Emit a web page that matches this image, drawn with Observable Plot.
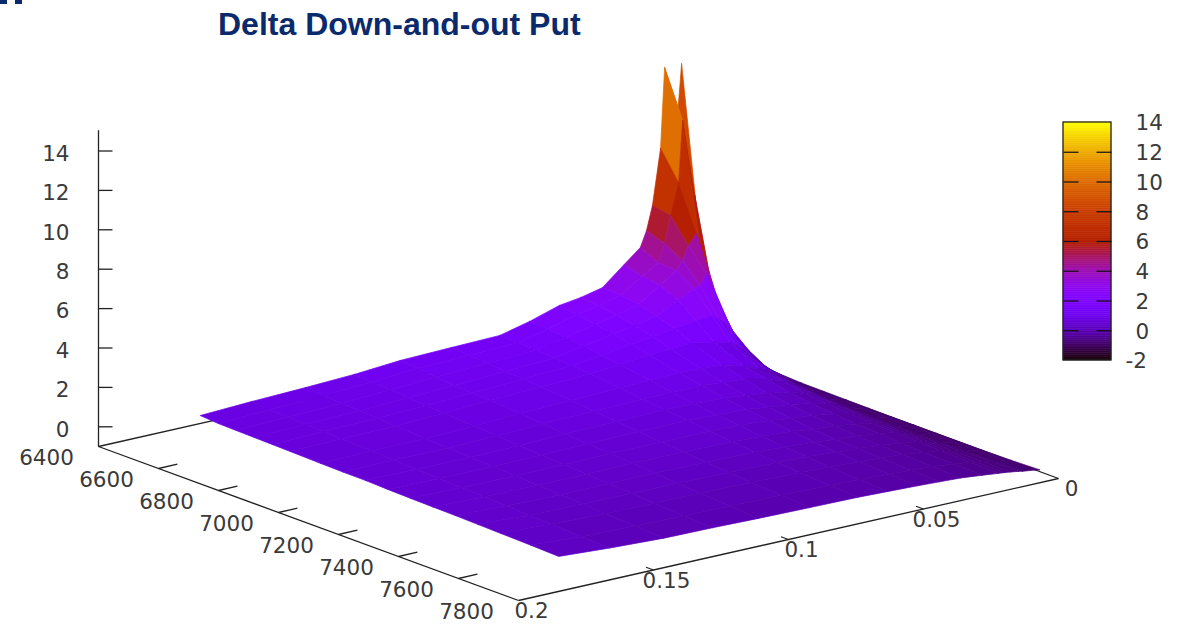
<!DOCTYPE html>
<html>
<head>
<meta charset="utf-8">
<script src="https://cdn.jsdelivr.net/npm/d3@7"></script>
<script src="https://cdn.jsdelivr.net/npm/@observablehq/plot@0.6"></script>
<style>
  html, body { margin: 0; padding: 0; background: #fff; }
  #wrap { position: relative; width: 1180px; height: 624px; overflow: hidden; }
  #title { position: relative; height: 48px; }
  #title h1 { position: absolute; left: 218px; top: 6px; margin: 0; font: bold 32px "Liberation Sans", Arial, sans-serif; color: #0a2a6b; white-space: nowrap; }
  .crumb { position: absolute; top: 0; width: 7px; height: 4px; background: #0a2a6b; }
  svg { display: block; }
</style>
</head>
<body>
<div id="wrap">
  <div class="crumb" style="left:0"></div>
  <div class="crumb" style="left:15px"></div>
  <div id="title"><h1>Delta Down-and-out Put</h1></div>
  <div id="chart"></div>
</div>
<script>
// Grid of the surface
const spotLevels = [6550, 6610, 6670, 6730, 6790, 6850, 6950, 7025, 7100, 7175, 7250, 7325, 7400, 7475, 7550, 7650, 7745];
const maturities = [0.0007, 0.0025, 0.007, 0.0085, 0.0115, 0.0137, 0.016, 0.022, 0.03, 0.038, 0.046, 0.057, 0.068, 0.086, 0.105, 0.122, 0.14, 0.16, 0.179];
// Delta per maturity (back to front), one value per spot level
const delta0007 = [13.1, 4.55, 1.75, 0.25, -0.48, -0.8, -0.88, -0.89, -0.9, -0.91, -0.92, -0.92, -0.92, -0.92, -0.92, -0.9, -0.85];
const delta0025 = [10.0, 6.8, 2.2, 0.72, -0.07, -0.6, -0.8, -0.83, -0.85, -0.86, -0.87, -0.87, -0.87, -0.87, -0.87, -0.84, -0.8];
const delta0070 = [13.1, 10.75, 4.4, 2.12, 0.69, -0.05, -0.45, -0.6, -0.7, -0.75, -0.78, -0.79, -0.8, -0.8, -0.8, -0.76, -0.72];
const delta0085 = [9.04, 7.64, 5.39, 2.83, 1.04, 0.15, -0.3, -0.45, -0.55, -0.62, -0.68, -0.7, -0.72, -0.72, -0.72, -0.7, -0.68];
const delta0115 = [6.23, 6.06, 4.87, 3.79, 1.63, 0.6, 0, -0.2, -0.35, -0.43, -0.5, -0.54, -0.58, -0.6, -0.62, -0.62, -0.62];
const delta0137 = [5.03, 4.71, 4.18, 3.25, 1.91, 0.87, 0.15, -0.05, -0.2, -0.3, -0.4, -0.45, -0.5, -0.53, -0.55, -0.57, -0.58];
const delta0160 = [4.24, 3.82, 3.75, 3.17, 2.13, 1.1, 0.3, 0.1, -0.1, -0.2, -0.3, -0.35, -0.4, -0.44, -0.48, -0.52, -0.55];
const delta0220 = [3.56, 3.3, 3.2, 2.75, 2.05, 1.3, 0.65, 0.4, 0.15, 0, -0.12, -0.2, -0.27, -0.33, -0.38, -0.42, -0.46];
const delta0300 = [2.64, 2.6, 2.45, 2.2, 1.9, 1.5, 0.95, 0.65, 0.35, 0.2, 0.05, -0.05, -0.15, -0.2, -0.25, -0.3, -0.35];
const delta0380 = [2.39, 2.3, 2.15, 1.95, 1.75, 1.45, 1, 0.72, 0.48, 0.3, 0.15, 0.03, -0.06, -0.12, -0.18, -0.24, -0.3];
const delta0460 = [2.23, 2.1, 1.95, 1.8, 1.6, 1.4, 1.05, 0.82, 0.6, 0.45, 0.3, 0.17, 0.05, -0.04, -0.12, -0.18, -0.25];
const delta0570 = [1.76, 1.7, 1.6, 1.5, 1.4, 1.25, 1, 0.82, 0.65, 0.5, 0.38, 0.26, 0.13, 0.05, -0.05, -0.12, -0.2];
const delta0680 = [1.39, 1.35, 1.3, 1.25, 1.2, 1.1, 0.95, 0.82, 0.7, 0.57, 0.45, 0.32, 0.2, 0.1, 0.02, -0.07, -0.15];
const delta0860 = [1.33, 1.28, 1.2, 1.12, 1.07, 1, 0.87, 0.75, 0.65, 0.54, 0.45, 0.35, 0.25, 0.15, 0.07, -0.03, -0.12];
const delta1050 = [1.26, 1.2, 1.1, 1, 0.95, 0.9, 0.8, 0.7, 0.6, 0.52, 0.45, 0.37, 0.3, 0.2, 0.12, 0.02, -0.08];
const delta1220 = [1.08, 1.03, 0.97, 0.9, 0.85, 0.8, 0.7, 0.63, 0.55, 0.48, 0.42, 0.36, 0.29, 0.22, 0.13, 0.05, -0.03];
const delta1400 = [0.97, 0.9, 0.85, 0.8, 0.75, 0.7, 0.62, 0.56, 0.5, 0.45, 0.4, 0.34, 0.28, 0.22, 0.15, 0.08, 0];
const delta1600 = [0.88, 0.8, 0.77, 0.73, 0.7, 0.67, 0.6, 0.56, 0.52, 0.47, 0.43, 0.38, 0.34, 0.28, 0.23, 0.16, 0.12];
const delta1790 = [0.76, 0.69, 0.67, 0.65, 0.63, 0.61, 0.57, 0.55, 0.54, 0.5, 0.47, 0.45, 0.43, 0.4, 0.37, 0.33, 0.28];
const deltaRows = [delta0007, delta0025, delta0070, delta0085, delta0115, delta0137, delta0160, delta0220, delta0300, delta0380, delta0460, delta0570, delta0680, delta0860, delta1050, delta1220, delta1400, delta1600, delta1790];

// Axis ticks
const spotTicks = [6400, 6600, 6800, 7000, 7200, 7400, 7600, 7800];
const matTicks = [0, 0.05, 0.1, 0.15, 0.2];
const zTicks = [0, 2, 4, 6, 8, 10, 12, 14];
const cbTicks = [-2, 0, 2, 4, 6, 8, 10, 12, 14];

// gnuplot-like view: project (spot, maturity, delta) onto the page plane
const ORIGIN = [98, 446];
const SPOT_VEC = [420, 154];
const MAT_VEC = [540, -122];
const Z_UNIT = 19.7;
const Z_BASE = -1;
const sx = (S, t) => ORIGIN[0] + SPOT_VEC[0] * (S - 6400) / 1400 + MAT_VEC[0] * (0.2 - t) / 0.2;
const sy = (S, t, z) => ORIGIN[1] + SPOT_VEC[1] * (S - 6400) / 1400 + MAT_VEC[1] * (0.2 - t) / 0.2 - (z - Z_BASE) * Z_UNIT;

const patches = [];
let id = 0;
for (let r = 0; r + 1 < maturities.length; ++r) {
  for (let c = 0; c + 1 < spotLevels.length; ++c) {
    const corners = [[r, c], [r, c + 1], [r + 1, c + 1], [r + 1, c]];
    const mean = d3.mean(corners, ([i, j]) => deltaRows[i][j]);
    for (const [i, j] of [...corners, corners[0]]) {
      patches.push({id, x: sx(spotLevels[j], maturities[i]), y: sy(spotLevels[j], maturities[i], deltaRows[i][j]), v: mean});
    }
    ++id;
  }
}

const palette = (t) => {
  const r = Math.sqrt(t), g = t * t * t, b = Math.max(0, Math.sin(2 * Math.PI * t));
  return `rgb(${Math.round(r * 255)},${Math.round(g * 255)},${Math.round(b * 255)})`;
};

const INK = "#222";
const LABEL = {fontFamily: "DejaVu Sans", fontSize: 21.5, fill: "#3a3a3a"};

// Frame of the base plane
const frame = [
  {x1: sx(6400, 0.2), y1: sy(6400, 0.2, Z_BASE), x2: sx(7800, 0.2), y2: sy(7800, 0.2, Z_BASE)},
  {x1: sx(7800, 0.2), y1: sy(7800, 0.2, Z_BASE), x2: sx(7800, 0), y2: sy(7800, 0, Z_BASE)},
  {x1: sx(7800, 0), y1: sy(7800, 0, Z_BASE), x2: sx(6400, 0), y2: sy(6400, 0, Z_BASE)},
  {x1: sx(6400, 0), y1: sy(6400, 0, Z_BASE), x2: sx(6400, 0.2), y2: sy(6400, 0.2, Z_BASE)},
  {x1: sx(6400, 0.2), y1: sy(6400, 0.2, Z_BASE), x2: sx(6400, 0.2), y2: sy(6400, 0.2, 15.05)}
];
const spotTickMarks = spotTicks.slice(1, -1).map((S) => ({x1: sx(S, 0.2), y1: sy(S, 0.2, Z_BASE), x2: sx(S, 0.193), y2: sy(S, 0.193, Z_BASE)}));
const matTickMarks = matTicks.slice(1, -1).map((t) => ({x1: sx(7800, t), y1: sy(7800, t, Z_BASE), x2: sx(7775, t), y2: sy(7775, t, Z_BASE)}));
const zTickMarks = zTicks.map((z) => ({x1: sx(6400, 0.2), y1: sy(6400, 0.2, z), x2: sx(6400, 0.2) + 14, y2: sy(6400, 0.2, z)}));

// Colour bar
const CB = {x1: 1063, x2: 1111, top: 122, bottom: 360};
const cbY = (v) => CB.bottom + (v + 2) / 16 * (CB.top - CB.bottom);
const cbSteps = d3.range(-2, 14, 0.125);

const link = (data) => Plot.link(data, {x1: "x1", y1: "y1", x2: "x2", y2: "y2", stroke: INK, strokeWidth: 1.3});

const chart = Plot.plot({
  width: 1180,
  height: 576,
  margin: 0,
  style: {background: "transparent"},
  x: {type: "linear", domain: [0, 1180], range: [0, 1180], axis: null},
  y: {type: "linear", domain: [48, 624], range: [0, 576], axis: null},
  color: {type: "linear", domain: [-2, 14], interpolate: palette},
  marks: [
    link(frame),
    link(spotTickMarks),
    link(matTickMarks),
    link(zTickMarks),
    Plot.line(patches, {x: "x", y: "y", z: "id", fill: "v", stroke: "v", strokeWidth: 0.7, curve: "linear"}),
    Plot.text(zTicks, {x: sx(6400, 0.2), y: (z) => sy(6400, 0.2, z), text: String, textAnchor: "end", dx: -29, dy: 3, ...LABEL}),
    Plot.text(spotTicks, {x: (S) => sx(S, 0.2), y: (S) => sy(S, 0.2, Z_BASE), text: String, dx: -52, dy: 12, ...LABEL}),
    Plot.text(matTicks, {x: (t) => sx(7800, t), y: (t) => sy(7800, t, Z_BASE), text: String, dx: 13, dy: 11, ...LABEL}),
    Plot.rect(cbSteps, {x1: CB.x1, x2: CB.x2, y1: (v) => cbY(v), y2: (v) => cbY(v + 0.125), fill: (v) => v + 0.0625, stroke: (v) => v + 0.0625, strokeWidth: 0.5}),
    Plot.rect([0], {x1: CB.x1, x2: CB.x2, y1: CB.top, y2: CB.bottom, fill: "none", stroke: INK, strokeWidth: 1.3}),
    Plot.link(cbTicks.slice(1, -1), {x1: CB.x1, x2: CB.x1 + 15, y1: (v) => cbY(v), y2: (v) => cbY(v), stroke: "#111", strokeWidth: 1.2}),
    Plot.link(cbTicks.slice(1, -1), {x1: CB.x2 - 15, x2: CB.x2, y1: (v) => cbY(v), y2: (v) => cbY(v), stroke: "#111", strokeWidth: 1.2}),
    Plot.text(cbTicks, {x: (v) => (v < 0 ? 1125 : 1135), y: (v) => cbY(v) + 1, text: String, textAnchor: "start", ...LABEL})
  ]
});
document.getElementById("chart").append(chart);
</script>
</body>
</html>
